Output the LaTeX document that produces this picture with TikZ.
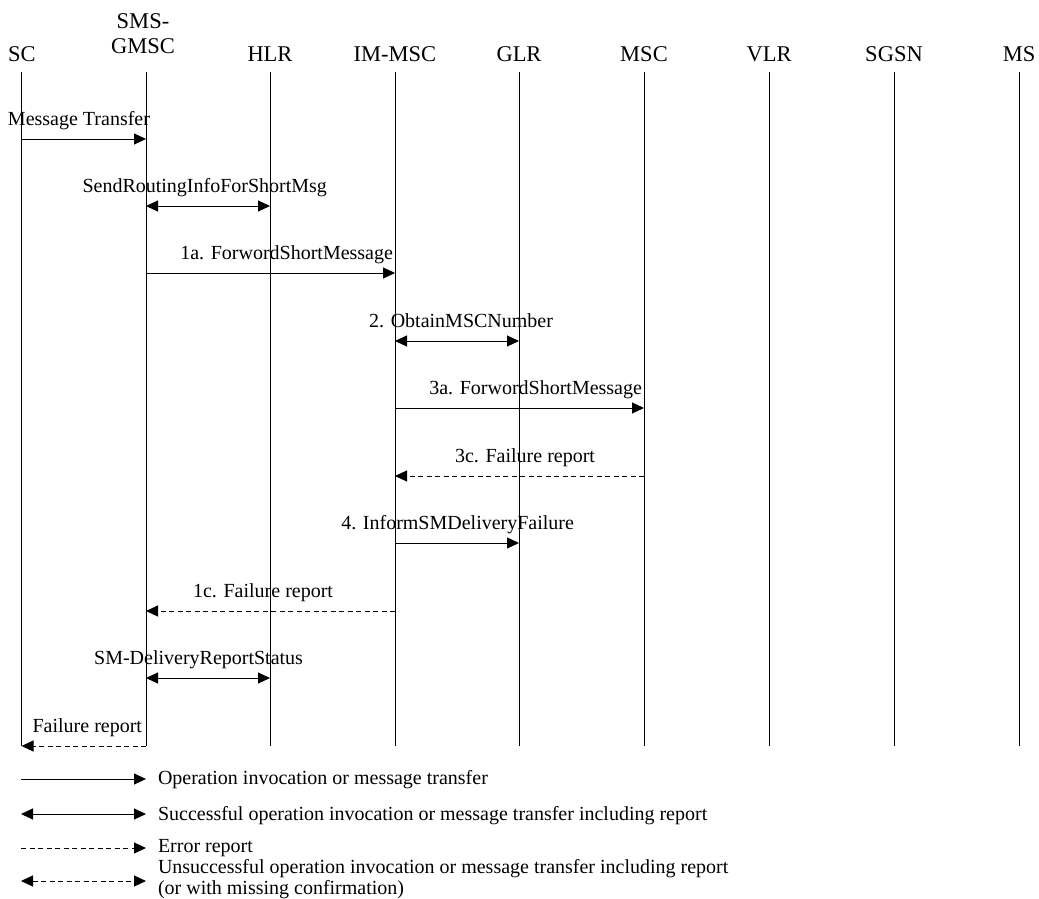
\documentclass[tikz,border=0pt]{standalone}
\usepackage{fontspec}
\setmainfont{Liberation Serif}
\usetikzlibrary{arrows.meta}
\begin{document}
\begin{tikzpicture}[x=1pt,y={(0pt,-1pt)},
  every node/.style={inner sep=0pt,outer sep=0pt},
  hdr/.style={font=\fontsize{22.5}{25}\selectfont,anchor=base},
  lbl/.style={font=\fontsize{20}{22}\selectfont,anchor=base east},
  lgt/.style={font=\fontsize{20}{22}\selectfont,anchor=base west},
  life/.style={line width=1pt},
  tip/.tip={Triangle[length=12pt,width=11pt]},
  msg/.style={line width=1pt,-tip},
  bimsg/.style={line width=1pt,tip-tip},
  errmsg/.style={msg,dash pattern=on 5pt off 3.5pt},
  bierr/.style={bimsg,dash pattern=on 5pt off 3.5pt}]
\useasboundingbox (0,0) rectangle (1039,899);
% lifeline coordinates
\foreach \n/\x in {sc/21.5,gmsc/146,hlr/270,imsc/395,glr/519,msc/644,vlr/769,sgsn/894,ms/1019}{
  \coordinate (\n-top) at (\x,72);
  \coordinate (\n-bot) at (\x,746);
  \foreach \k/\y in {1/139,2/206,3/273,4/341,5/408,6/476,7/543,8/611,9/678,10/746}{
    \coordinate (\n-\k) at (\x,\y);
  }
}
% headers
\node[hdr] (hsc) at (22,62) {SC};
\node[hdr] (hgmsc1) at (143,29) {SMS-};
\node[hdr] (hgmsc2) at (143,54) {GMSC};
\node[hdr] (hhlr) at (270,62) {HLR};
\node[hdr] (himsc) at (395,62) {IM-MSC};
\node[hdr] (hglr) at (519,62) {GLR};
\node[hdr] (hmsc) at (644,62) {MSC};
\node[hdr] (hvlr) at (769,62) {VLR};
\node[hdr] (hsgsn) at (894,62) {SGSN};
\node[hdr] (hms) at (1019,62) {MS};
% lifelines
\foreach \n in {sc,gmsc,hlr,imsc,glr,msc,vlr,sgsn,ms}{
  \draw[life] (\n-top) -- (\n-bot);
}
% messages
\draw[msg] (sc-1) -- (gmsc-1);
\node[lbl] (m1) at (150,125) {Message Transfer};
\draw[bimsg] (gmsc-2) -- (hlr-2);
\node[lbl] (m2) at (327,192) {SendRoutingInfoForShortMsg};
\draw[msg] (gmsc-3) -- (imsc-3);
\node[lbl] (m3) at (393,259) {1a. ForwordShortMessage};
\draw[bimsg] (imsc-4) -- (glr-4);
\node[lbl] (m4) at (553,327) {2. ObtainMSCNumber};
\draw[msg] (imsc-5) -- (msc-5);
\node[lbl] (m5) at (642,394) {3a. ForwordShortMessage};
\draw[errmsg] (msc-6) -- (imsc-6);
\node[lbl] (m6) at (595,462) {3c. Failure report};
\draw[msg] (imsc-7) -- (glr-7);
\node[lbl] (m7) at (574,529) {4. InformSMDeliveryFailure};
\draw[errmsg] (imsc-8) -- (gmsc-8);
\node[lbl] (m8) at (333,597) {1c. Failure report};
\draw[bimsg] (gmsc-9) -- (hlr-9);
\node[lbl] (m9) at (303,664) {SM-DeliveryReportStatus};
\draw[errmsg] (gmsc-10) -- (sc-10);
\node[lbl] (m10) at (142,732) {Failure report};
% legend
\coordinate (lg1a) at (21,779); \coordinate (lg1b) at (146,779);
\coordinate (lg2a) at (21,814); \coordinate (lg2b) at (146,814);
\coordinate (lg3a) at (21,848); \coordinate (lg3b) at (146,848);
\coordinate (lg4a) at (21,881); \coordinate (lg4b) at (146,881);
\draw[msg] (lg1a) -- (lg1b);
\draw[bimsg] (lg2a) -- (lg2b);
\draw[errmsg] (lg3a) -- (lg3b);
\draw[bierr] (lg4a) -- (lg4b);
\node[lgt] (t1) at (158,784) {Operation invocation or message transfer};
\node[lgt] (t2) at (158,820) {Successful operation invocation or message transfer including report};
\node[lgt] (t3) at (158,852) {Error report};
\node[lgt] (t4a) at (158,873) {Unsuccessful operation invocation or message transfer including report};
\node[lgt] (t4b) at (158,894) {(or with missing confirmation)};
\end{tikzpicture}
\end{document}
